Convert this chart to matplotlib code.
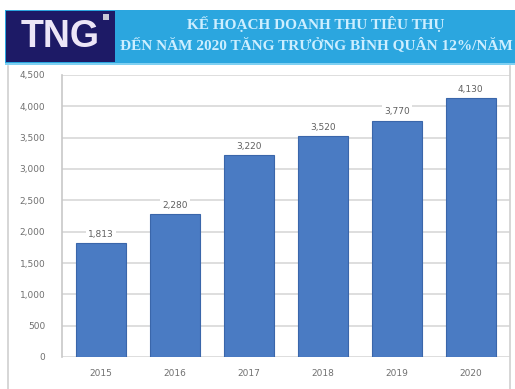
import matplotlib.pyplot as plt
from matplotlib.patches import Rectangle
from matplotlib.lines import Line2D
from matplotlib.ticker import FuncFormatter, MultipleLocator

# Revenue plan by year
years = ["2015", "2016", "2017", "2018", "2019", "2020"]
revenue = [1813, 2280, 3220, 3520, 3770, 4130]
value_labels = ["1,813", "2,280", "3,220", "3,520", "3,770", "4,130"]
title_lines = ["KẾ HOẠCH DOANH THU TIÊU THỤ",
               "ĐẾN NĂM 2020 TĂNG TRƯỞNG BÌNH QUÂN 12%/NĂM"]
brand = "TNG"

W, H = 515, 389
fig = plt.figure(figsize=(W / 100, H / 100), dpi=100)
fig.patch.set_facecolor("white")

def fx(px):
    return px / W

def fy(py):
    return 1 - py / H

# header band
fig.patches.append(Rectangle((fx(5), fy(63)), fx(510), 53 / H,
                             transform=fig.transFigure, facecolor="#2ba6df",
                             edgecolor="none", zorder=0))
fig.patches.append(Rectangle((fx(5), fy(65)), fx(510), 2 / H,
                             transform=fig.transFigure, facecolor="#7fd0f2",
                             edgecolor="none", zorder=0))
# logo block
fig.patches.append(Rectangle((fx(6), fy(62)), fx(109), 51 / H,
                             transform=fig.transFigure, facecolor="#1d1a66",
                             edgecolor="none", zorder=1))
fig.text(fx(60), fy(37), brand, ha="center", va="center", color="#ece6f7",
         fontsize=27, fontweight="bold", family="Liberation Sans", zorder=2)
fig.patches.append(Rectangle((fx(103), fy(20)), fx(6), 6 / H,
                             transform=fig.transFigure, facecolor="#c9c9d6",
                             edgecolor="none", zorder=2))
fig.text(fx(316), fy(24), title_lines[0], ha="center", va="center",
         color="#cdeeff", fontsize=11, fontweight="bold",
         family="Liberation Serif")
fig.text(fx(316), fy(45), title_lines[1], ha="center", va="center",
         color="#cdeeff", fontsize=11, fontweight="bold",
         family="Liberation Serif")

# chart frame lines
for x in (8, 510):
    fig.lines.append(Line2D([fx(x), fx(x)], [fy(66), 0],
                            transform=fig.transFigure, color="#d0d0d0",
                            lw=1.2))

ax = fig.add_axes([fx(62), fy(357), fx(510) - fx(62), (357 - 75) / H])
ax.set_facecolor("white")
pos = list(range(len(years)))
ax.bar(pos, revenue, width=0.67, color="#4a7bc3", edgecolor="#3a66aa",
       linewidth=0.8, zorder=3)
for p, v, lab in zip(pos, revenue, value_labels):
    ax.text(p, v + 70, lab, ha="center", va="bottom", fontsize=6.5,
            color="#606060", zorder=4,
            bbox=dict(boxstyle="square,pad=0.25", fc="white", ec="none"))

ax.set_xlim(-0.53, 5.53)
ax.set_ylim(0, 4500)
ax.yaxis.set_major_locator(MultipleLocator(500))
ax.yaxis.set_major_formatter(FuncFormatter(lambda v, _: f"{int(v):,}"))
ax.set_xticks(pos)
ax.set_xticklabels(years)
ax.tick_params(axis="both", length=0, labelsize=6.5, labelcolor="#707070")
ax.tick_params(axis="y", pad=12)
ax.tick_params(axis="x", pad=9)
ax.grid(axis="y", color="#d8d8d8", lw=1.2, zorder=0)
ax.set_axisbelow(True)
for s in ("top", "right", "bottom"):
    ax.spines[s].set_visible(False)
ax.spines["left"].set_color("#c8c8c8")
ax.spines["left"].set_linewidth(1.2)

fig.savefig("out.png", dpi=100)
